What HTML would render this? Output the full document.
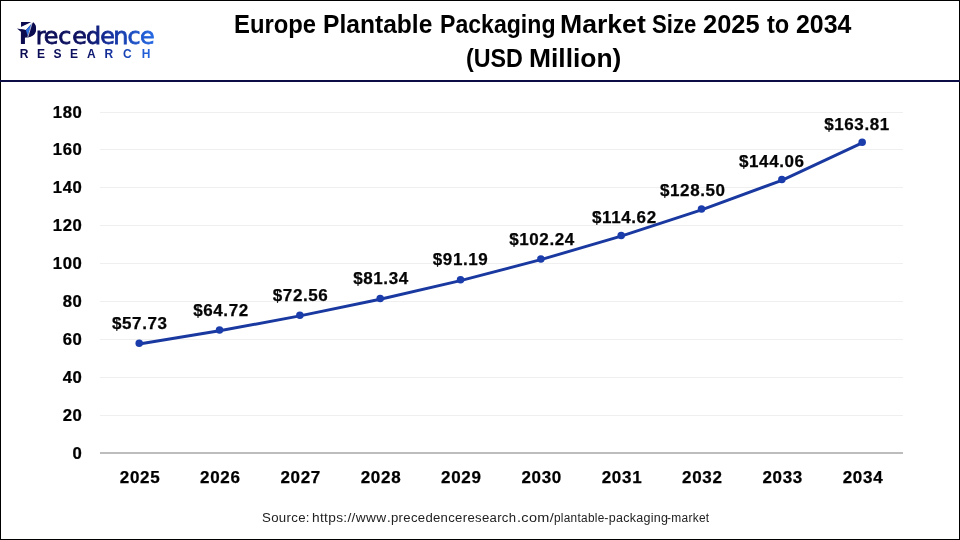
<!DOCTYPE html>
<html lang="en"><head><meta charset="utf-8"><title>Europe Plantable Packaging Market Size 2025 to 2034</title>
<style>
html,body{margin:0;padding:0;background:#fff;}
body{width:960px;height:540px;overflow:hidden;position:relative;font-family:"Liberation Sans",sans-serif;}
#frame{position:absolute;left:0;top:0;width:958px;height:538px;border:1px solid #000;border-bottom-width:1.5px;}
#hr{position:absolute;left:0;top:80px;width:960px;height:2px;background:#0c0c46;}
.t{position:absolute;left:0;top:0;font-weight:bold;color:#000;white-space:nowrap;font-size:25px;line-height:28px;}
.w{position:absolute;transform-origin:0 50%;}
.s{display:inline-block;width:0;white-space:pre;transform-origin:0 50%;}
#src{position:absolute;left:0;top:509px;font-size:12.5px;letter-spacing:0.3px;color:#222;white-space:nowrap;line-height:18px;}
svg{position:absolute;left:0;top:0;}
.ax{font:bold 16px "Liberation Sans",sans-serif;fill:#000;stroke:#000;stroke-width:0.25px;letter-spacing:0.6px;}
.xl{font-size:17px;letter-spacing:0.7px;}
.dl{font:bold 17px "Liberation Sans",sans-serif;fill:#050505;stroke:#050505;stroke-width:0.25px;letter-spacing:0.6px;}
</style></head><body>
<div id="frame"></div>
<div id="hr"></div>
<div class="t" id="t1" style="top:10px"><span class="s" style="margin-left:233.99px;transform:scaleX(0.9530)">Europe </span><span class="s" style="margin-left:89.04px;transform:scaleX(0.9838)">Plantable </span><span class="s" style="margin-left:117.12px;transform:scaleX(0.9236)">Packaging </span><span class="s" style="margin-left:120.22px;transform:scaleX(1.0641)">Market </span><span class="s" style="margin-left:91.74px;transform:scaleX(0.8854)">Size </span><span class="s" style="margin-left:50.62px;transform:scaleX(1.0185)">2025 </span><span class="s" style="margin-left:64.27px;transform:scaleX(0.9457)">to </span><span class="s" style="margin-left:29.50px;transform:scaleX(0.9964)">2034</span></div>
<div class="t" id="t2" style="top:44px"><span class="s" style="margin-left:466.32px;transform:scaleX(0.9314)">(USD </span><span class="s" style="margin-left:62.57px;transform:scaleX(1.0560)">Million)</span></div>
<svg width="960" height="540" viewBox="0 0 960 540">
<defs><linearGradient id="lg" x1="17" x2="154" y1="0" y2="0" gradientUnits="userSpaceOnUse">
<stop offset="0" stop-color="#0b0b50"/><stop offset="0.5" stop-color="#0d1262"/><stop offset="0.66" stop-color="#142d98"/><stop offset="0.84" stop-color="#1a4cc0"/><stop offset="1" stop-color="#2569e4"/></linearGradient>
<linearGradient id="lg2" x1="17" x2="154" y1="0" y2="0" gradientUnits="userSpaceOnUse" gradientTransform="translate(-34.1 0) scale(0.952 1)"><stop offset="0" stop-color="#0b0b50"/><stop offset="0.5" stop-color="#0d1262"/><stop offset="0.66" stop-color="#142d98"/><stop offset="0.84" stop-color="#1a4cc0"/><stop offset="1" stop-color="#2569e4"/></linearGradient></defs>
<g id="logo">
<text transform="translate(35.8 0) scale(1.05 1)" style="font:22.7px 'DejaVu Sans',sans-serif"><tspan x="-15.876" y="43.85" style="font:bold 31.9px 'Liberation Sans',sans-serif" fill="#0b0b50" textLength="16.819" lengthAdjust="spacingAndGlyphs">P</tspan><tspan y="44.05" x="0.00 7.52 21.43 34.76 47.71 61.43 73.71 87.33 99.24" fill="url(#lg2)" stroke="url(#lg2)" stroke-width="0.75">recedence</tspan></text>
<path d="M24.6,27 L32.6,22.1 C35.5,23.5 36.3,27 36,29.8 C35.6,33.6 32.5,36.6 28,37.45 L24.6,37.45 Z" fill="#0b0b50"/>
<path d="M14.5,30 L20.9,27 L32.5,21.6 L33.2,22 L31.85,23.4 L25.9,30.1 L17,28.4 Z" fill="#fff"/>
<path d="M17,28.4 L25.75,30.1 L27.5,36.4 L24.7,37.5 L24.7,43.85 L20.9,43.85 L20.9,31.7 Z" fill="#0b0b50"/>
<path d="M25.9,30.1 L31.85,23.4 L27.6,35.85 Z" fill="#2b6fe0"/>
<path d="M32.45,21.8 L27.75,37.2" stroke="#fff" stroke-width="0.7" fill="none"/>
<text y="57.8" x="24.2 41.1 57.55 74 91.25 108.95 127.3 146.05" text-anchor="middle" style="font:bold 12px 'Liberation Sans',sans-serif" fill="url(#lg)">RESEARCH</text>
</g>
<line x1="100" x2="903" y1="415.50" y2="415.50" stroke="#efefef" stroke-width="1"/>
<line x1="100" x2="903" y1="377.50" y2="377.50" stroke="#efefef" stroke-width="1"/>
<line x1="100" x2="903" y1="339.50" y2="339.50" stroke="#efefef" stroke-width="1"/>
<line x1="100" x2="903" y1="301.50" y2="301.50" stroke="#efefef" stroke-width="1"/>
<line x1="100" x2="903" y1="263.50" y2="263.50" stroke="#efefef" stroke-width="1"/>
<line x1="100" x2="903" y1="225.50" y2="225.50" stroke="#efefef" stroke-width="1"/>
<line x1="100" x2="903" y1="187.50" y2="187.50" stroke="#efefef" stroke-width="1"/>
<line x1="100" x2="903" y1="149.50" y2="149.50" stroke="#efefef" stroke-width="1"/>
<line x1="100" x2="903" y1="112.50" y2="112.50" stroke="#efefef" stroke-width="1"/>
<line x1="100" x2="903" y1="453" y2="453" stroke="#bdbdbd" stroke-width="2"/>
<text class="ax" transform="translate(82.5 458.75) scale(1.045 1)" x="0" y="0" text-anchor="end">0</text>
<text class="ax" transform="translate(82.5 421.45) scale(1.045 1)" x="0" y="0" text-anchor="end">20</text>
<text class="ax" transform="translate(82.5 383.45) scale(1.045 1)" x="0" y="0" text-anchor="end">40</text>
<text class="ax" transform="translate(82.5 345.45) scale(1.045 1)" x="0" y="0" text-anchor="end">60</text>
<text class="ax" transform="translate(82.5 307.45) scale(1.045 1)" x="0" y="0" text-anchor="end">80</text>
<text class="ax" transform="translate(82.5 269.45) scale(1.045 1)" x="0" y="0" text-anchor="end">100</text>
<text class="ax" transform="translate(82.5 231.45) scale(1.045 1)" x="0" y="0" text-anchor="end">120</text>
<text class="ax" transform="translate(82.5 193.45) scale(1.045 1)" x="0" y="0" text-anchor="end">140</text>
<text class="ax" transform="translate(82.5 155.45) scale(1.045 1)" x="0" y="0" text-anchor="end">160</text>
<text class="ax" transform="translate(82.5 118.45) scale(1.045 1)" x="0" y="0" text-anchor="end">180</text>
<text class="ax xl" x="140.05" y="483" text-anchor="middle">2025</text>
<text class="ax xl" x="220.38" y="483" text-anchor="middle">2026</text>
<text class="ax xl" x="300.71" y="483" text-anchor="middle">2027</text>
<text class="ax xl" x="381.04" y="483" text-anchor="middle">2028</text>
<text class="ax xl" x="461.37" y="483" text-anchor="middle">2029</text>
<text class="ax xl" x="541.70" y="483" text-anchor="middle">2030</text>
<text class="ax xl" x="622.03" y="483" text-anchor="middle">2031</text>
<text class="ax xl" x="702.36" y="483" text-anchor="middle">2032</text>
<text class="ax xl" x="782.69" y="483" text-anchor="middle">2033</text>
<text class="ax xl" x="863.02" y="483" text-anchor="middle">2034</text>
<polyline points="139.20,343.29 219.53,330.04 299.86,315.18 380.19,298.53 460.52,279.85 540.85,258.90 621.18,235.43 701.51,209.11 781.84,179.61 862.17,142.17" transform="translate(0 0.75)" fill="none" stroke="#1a39a0" stroke-width="2.9" stroke-linejoin="round" stroke-linecap="round"/>
<circle cx="139.20" cy="343.29" r="3.75" fill="#1b3cab"/>
<circle cx="219.53" cy="330.04" r="3.75" fill="#1b3cab"/>
<circle cx="299.86" cy="315.18" r="3.75" fill="#1b3cab"/>
<circle cx="380.19" cy="298.53" r="3.75" fill="#1b3cab"/>
<circle cx="460.52" cy="279.85" r="3.75" fill="#1b3cab"/>
<circle cx="540.85" cy="258.90" r="3.75" fill="#1b3cab"/>
<circle cx="621.18" cy="235.43" r="3.75" fill="#1b3cab"/>
<circle cx="701.51" cy="209.11" r="3.75" fill="#1b3cab"/>
<circle cx="781.84" cy="179.61" r="3.75" fill="#1b3cab"/>
<circle cx="862.17" cy="142.17" r="3.75" fill="#1b3cab"/>
<text class="dl" x="112.00" y="328.70">$57.73</text>
<text class="dl" x="193.20" y="316.20">$64.72</text>
<text class="dl" x="272.80" y="300.80">$72.56</text>
<text class="dl" x="353.20" y="283.70">$81.34</text>
<text class="dl" x="432.80" y="265.30">$91.19</text>
<text class="dl" x="509.20" y="244.70">$102.24</text>
<text class="dl" x="592.00" y="222.50">$114.62</text>
<text class="dl" x="660.00" y="196.20">$128.50</text>
<text class="dl" x="739.00" y="166.50">$144.06</text>
<text class="dl" x="824.20" y="130.00">$163.81</text>
</svg>
<div id="src"><span class="s" style="margin-left:261.77px;transform:scaleX(1.0590)">Source: </span><span class="s" style="margin-left:50.51px;transform:scaleX(1.0959)">https://www</span><span class="s" style="margin-left:75.17px;transform:scaleX(1.0504)">.precedenceresearch</span><span class="s" style="margin-left:129.49px;transform:scaleX(1.1593)">.com/</span><span class="s" style="margin-left:36.95px;transform:scaleX(0.9449)">plantable</span><span class="s" style="margin-left:50.36px;transform:scaleX(1.0000)">-packaging</span><span class="s" style="margin-left:63.17px;transform:scaleX(0.9540)">-market</span></div>
</body></html>
